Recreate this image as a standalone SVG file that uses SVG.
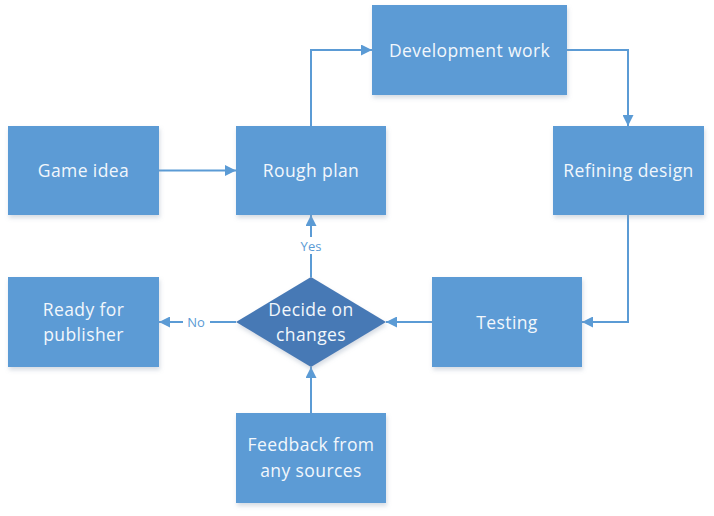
<svg xmlns="http://www.w3.org/2000/svg" width="714" height="516" viewBox="0 0 714 516">
<defs>
<filter id="sh" x="-10%" y="-10%" width="125%" height="130%">
<feDropShadow dx="1" dy="3" stdDeviation="2" flood-color="#8a9bb0" flood-opacity="0.35"/>
</filter>
<marker id="arr" viewBox="0 0 10 10" refX="10" refY="5" markerWidth="13" markerHeight="11" markerUnits="userSpaceOnUse" orient="auto">
<path d="M0,0 L10,5 L0,10 z" fill="#5b9bd5"/>
</marker>
</defs>
<style>
.box{fill:#5b9bd5;filter:url(#sh)}
.dia{fill:#4779b5;filter:url(#sh)}
.t{font-family:"Open Sans","Noto Sans",sans-serif;font-size:17.5px;fill:#f2f7fc;text-anchor:middle;letter-spacing:0.4px}
.lbl{font-family:"Open Sans","Noto Sans",sans-serif;font-size:13px;fill:#5b9bd5;text-anchor:middle}
.c{fill:none;stroke:#5b9bd5;stroke-width:2;marker-end:url(#arr)}
</style>
<rect width="714" height="516" fill="#ffffff"/>
<g id="connectors">
<path class="c" d="M159,170.5 L236,170.5"/>
<path class="c" d="M311,126 L311,50 L372,50"/>
<path class="c" d="M567,50 L628,50 L628,126"/>
<path class="c" d="M628,215 L628,322 L582,322"/>
<path class="c" d="M432,322 L386,322"/>
<path class="c" d="M311,277 L311,215"/>
<path class="c" d="M236,322 L159,322"/>
<path class="c" d="M311,413 L311,367"/>
<rect x="296" y="237" width="30" height="17" fill="#ffffff"/>
<text class="lbl" x="311" y="251">Yes</text>
<rect x="183" y="313" width="27" height="17" fill="#ffffff"/>
<text class="lbl" x="196" y="326.5">No</text>
</g>
<g id="game-idea">
<rect class="box" x="8" y="126" width="151" height="89"/>
<text class="t" x="83.5" y="177">Game idea</text>
</g>
<g id="rough-plan">
<rect class="box" x="236" y="126" width="150" height="89"/>
<text class="t" x="311" y="177">Rough plan</text>
</g>
<g id="development-work">
<rect class="box" x="372" y="5" width="195" height="90"/>
<text class="t" x="469.5" y="56.5">Development work</text>
</g>
<g id="refining-design">
<rect class="box" x="553" y="126" width="151" height="89"/>
<text class="t" x="628.5" y="177">Refining design</text>
</g>
<g id="testing">
<rect class="box" x="432" y="277" width="150" height="90"/>
<text class="t" x="507" y="328.5">Testing</text>
</g>
<g id="decide-on-changes">
<polygon class="dia" points="311,277 386,322 311,367 236,322"/>
<text class="t" x="311" y="315.5">Decide on</text>
<text class="t" x="311" y="340.5">changes</text>
</g>
<g id="ready-for-publisher">
<rect class="box" x="8" y="277" width="151" height="90"/>
<text class="t" x="83.5" y="315.5">Ready for</text>
<text class="t" x="83.5" y="340.5">publisher</text>
</g>
<g id="feedback">
<rect class="box" x="236" y="413" width="150" height="90"/>
<text class="t" x="311" y="451">Feedback from</text>
<text class="t" x="311" y="477">any sources</text>
</g>
</svg>
